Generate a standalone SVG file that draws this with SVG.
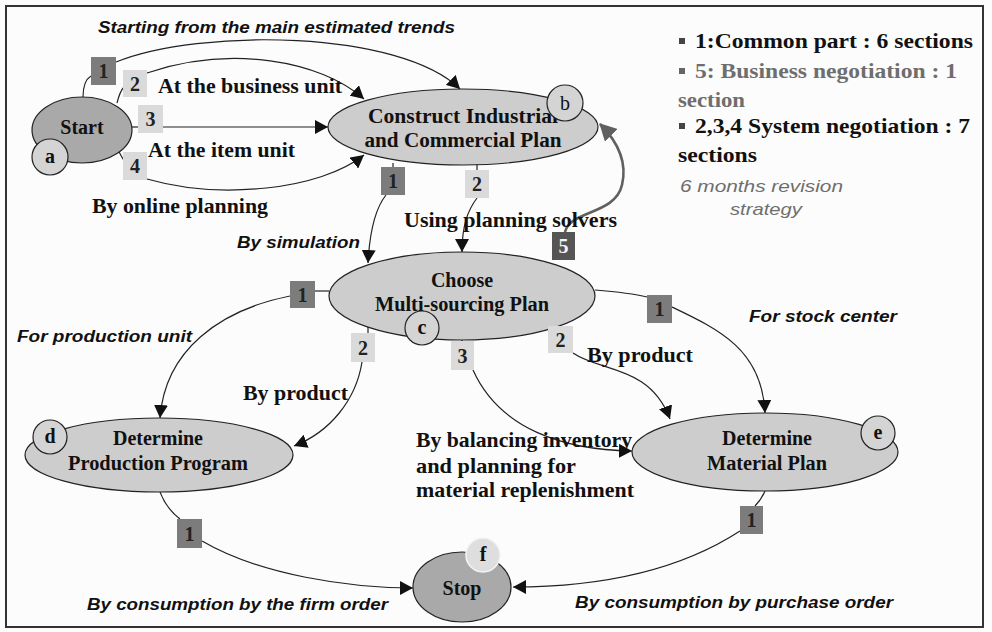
<svg xmlns="http://www.w3.org/2000/svg" width="992" height="632" viewBox="0 0 992 632">
<style>
.ser{font-family:"Liberation Serif","Times New Roman",serif;font-weight:bold;}
.san{font-family:"Liberation Sans",Arial,sans-serif;font-weight:bold;font-style:italic;}
.lbl{font-size:21px;fill:#111;}
.it{font-size:16px;fill:#111;}
.node{font-size:20px;fill:#111;text-anchor:middle;}
.sq{stroke:none;}
.dk{fill:#7c7c7c;}
.lt{fill:#dadada;}
.sqt{font-size:20px;text-anchor:middle;fill:#222;}
.conn{fill:none;stroke:#222;stroke-width:1.2;}
.arr{marker-end:url(#ah);}
.ell{stroke:#222;stroke-width:1.2;}
.circ{fill:#d4d4d4;stroke:#222;stroke-width:1.2;}
.leg{font-size:22px;}
</style>
<defs>
<marker id="ah" markerUnits="userSpaceOnUse" markerWidth="14" markerHeight="14" refX="13" refY="7" orient="auto">
<path d="M0,0 L13,7 L0,14 z" fill="#111"/>
</marker>
<marker id="ah5" markerUnits="userSpaceOnUse" markerWidth="18" markerHeight="18" refX="16" refY="9" orient="auto">
<path d="M0,0 L17,9 L0,18 z" fill="#606060"/>
</marker>
</defs>
<rect x="0" y="0" width="992" height="632" fill="#fcfcfc"/>
<rect x="6" y="6" width="977" height="621" fill="none" stroke="#333" stroke-width="2"/>

<g id="connectors">
<path class="conn" d="M83,97 C83,86 86,79 91,76"/>
<path class="conn" d="M117,103 C119,95 121,90 124,87"/>
<path class="conn" d="M132,127 L138,127"/>
<path class="conn" d="M118,150 C121,155 122,158 124,160"/>
<path class="conn" d="M393,163 L393,167"/>
<path class="conn" d="M477,164 L477,170"/>
<path class="conn" d="M329,291 L315,291"/>
<path class="conn" d="M368,322 L368,333"/>
<path class="conn" d="M462,338 L462,341"/>
<path class="conn" d="M555,322 L555,326"/>
<path class="conn" d="M595,290 C620,292 635,294 647,297"/>
<path class="conn" d="M160,492 C165,505 172,513 180,519"/>
<path class="conn" d="M765,491 C762,498 758,503 755,506"/>

<path class="conn arr" d="M116,62 C200,28 400,30 460,89"/>
<path class="conn arr" d="M147,73 C230,45 320,60 364,99"/>
<path class="conn arr" d="M163,127 L328,127"/>
<path class="conn arr" d="M147,179 C220,200 320,190 364,155"/>
<path class="conn arr" d="M386,195 C378,205 370,225 368,263"/>
<path class="conn arr" d="M477,198 C468,210 462,225 462,252"/>
<path fill="none" stroke="#606060" stroke-width="2.6" marker-end="url(#ah5)" d="M565,232 C570,210 615,215 622,185 C628,160 616,140 600,124"/>
<path class="conn arr" d="M290,296 C220,310 165,350 160,418"/>
<path class="conn arr" d="M362,362 C356,400 330,432 294,446"/>
<path class="conn arr" d="M473,370 C500,430 565,450 632,451"/>
<path class="conn arr" d="M573,353 C600,372 650,365 670,419"/>
<path class="conn arr" d="M672,307 C720,330 762,350 765,413"/>
<path class="conn arr" d="M202,541 C260,575 350,588 413,588"/>
<path class="conn arr" d="M740,531 C680,570 600,587 513,587"/>
</g>

<g id="start">
<ellipse class="ell" cx="82" cy="130" rx="50" ry="33" fill="#a9a9a9"/>
<text class="ser node" x="82" y="134" font-size="19">Start</text>
<circle class="circ" cx="50" cy="157" r="18"/>
<text class="ser node" x="50" y="163" font-size="18">a</text>
</g>

<g id="construct">
<ellipse class="ell" cx="463" cy="127" rx="135" ry="38" fill="#cdcdcd"/>
<text class="ser node" x="463" y="123" textLength="190" lengthAdjust="spacingAndGlyphs">Construct Industrial</text>
<text class="ser node" x="463" y="147" textLength="197" lengthAdjust="spacingAndGlyphs">and Commercial Plan</text>
<circle class="circ" cx="565" cy="103" r="18"/>
<text class="ser node" x="565" y="110" font-size="19" style="font-weight:normal">b</text>
</g>

<g id="choose">
<ellipse class="ell" cx="462" cy="296" rx="133" ry="44" fill="#cdcdcd"/>
<text class="ser node" x="462" y="287">Choose</text>
<text class="ser node" x="462" y="311" textLength="174" lengthAdjust="spacingAndGlyphs">Multi-sourcing Plan</text>
<circle class="circ" cx="422" cy="328" r="17"/>
<text class="ser node" x="422" y="334" font-size="18">c</text>
</g>

<g id="production">
<ellipse class="ell" cx="159" cy="455" rx="134" ry="37" fill="#cdcdcd"/>
<text class="ser node" x="158" y="445">Determine</text>
<text class="ser node" x="158" y="470" textLength="180" lengthAdjust="spacingAndGlyphs">Production Program</text>
<circle class="circ" cx="50" cy="437" r="17"/>
<text class="ser node" x="50" y="443" font-size="18">d</text>
</g>

<g id="material">
<ellipse class="ell" cx="765" cy="452" rx="133" ry="39" fill="#cdcdcd"/>
<text class="ser node" x="767" y="445">Determine</text>
<text class="ser node" x="767" y="470" textLength="120" lengthAdjust="spacingAndGlyphs">Material Plan</text>
<circle class="circ" cx="878" cy="433" r="17"/>
<text class="ser node" x="878" y="439" font-size="18">e</text>
</g>

<g id="stop">
<ellipse class="ell" cx="462" cy="587" rx="49" ry="35" fill="#a9a9a9"/>
<text class="ser node" x="462" y="595">Stop</text>
<circle cx="483" cy="555" r="17" fill="#dedede" stroke="#f4f4f4" stroke-width="1.5"/>
<text class="ser node" x="483" y="561" font-size="18">f</text>
</g>

<g id="squares">
<rect class="sq dk" x="91" y="57" width="25" height="28"/><text class="ser sqt" x="103.5" y="78">1</text>
<rect class="sq lt" x="123" y="70" width="24" height="27"/><text class="ser sqt" x="135" y="91">2</text>
<rect class="sq lt" x="138" y="105" width="25" height="28"/><text class="ser sqt" x="150.5" y="126">3</text>
<rect class="sq lt" x="123" y="152" width="24" height="28"/><text class="ser sqt" x="135" y="173">4</text>
<rect class="sq dk" x="381" y="167" width="24" height="28"/><text class="ser sqt" x="393" y="188">1</text>
<rect class="sq lt" x="465" y="170" width="24" height="28"/><text class="ser sqt" x="477" y="191">2</text>
<rect class="sq" fill="#555" x="552" y="232" width="23" height="28"/><text class="ser sqt" x="563.5" y="253" fill="#fff" style="fill:#f4f4f4">5</text>
<rect class="sq dk" x="290" y="281" width="25" height="27"/><text class="ser sqt" x="302.5" y="302">1</text>
<rect class="sq lt" x="351" y="333" width="24" height="29"/><text class="ser sqt" x="363" y="355">2</text>
<rect class="sq lt" x="451" y="341" width="23" height="29"/><text class="ser sqt" x="462.5" y="363">3</text>
<rect class="sq lt" x="548" y="326" width="25" height="27"/><text class="ser sqt" x="560.5" y="347">2</text>
<rect class="sq dk" x="647" y="295" width="25" height="28"/><text class="ser sqt" x="659.5" y="316">1</text>
<rect class="sq dk" x="177" y="519" width="25" height="29"/><text class="ser sqt" x="189.5" y="541">1</text>
<rect class="sq dk" x="740" y="506" width="23" height="28"/><text class="ser sqt" x="751.5" y="527">1</text>
</g>

<g id="labels">
<text class="san it" x="98" y="33" textLength="357" lengthAdjust="spacingAndGlyphs">Starting from the main estimated trends</text>
<text class="ser lbl" x="158" y="93" textLength="184" lengthAdjust="spacingAndGlyphs">At the business unit</text>
<text class="ser lbl" x="148" y="157" textLength="147" lengthAdjust="spacingAndGlyphs">At the item unit</text>
<text class="ser lbl" x="92" y="213" textLength="176" lengthAdjust="spacingAndGlyphs">By online planning</text>
<text class="san it" x="237" y="248" textLength="123" lengthAdjust="spacingAndGlyphs">By simulation</text>
<text class="ser lbl" x="404" y="227" textLength="213" lengthAdjust="spacingAndGlyphs">Using planning solvers</text>
<text class="san it" x="17" y="342" textLength="175" lengthAdjust="spacingAndGlyphs">For production unit</text>
<text class="ser lbl" x="243" y="400" textLength="105" lengthAdjust="spacingAndGlyphs">By product</text>
<text class="ser lbl" x="587" y="362" textLength="106" lengthAdjust="spacingAndGlyphs">By product</text>
<text class="san it" x="749" y="322" textLength="148" lengthAdjust="spacingAndGlyphs">For stock center</text>
<text class="ser lbl" x="416" y="447" textLength="216" lengthAdjust="spacingAndGlyphs">By balancing inventory</text>
<text class="ser lbl" x="416" y="473" textLength="160" lengthAdjust="spacingAndGlyphs">and planning for</text>
<text class="ser lbl" x="416" y="497" textLength="218" lengthAdjust="spacingAndGlyphs">material replenishment</text>
<text class="san it" x="87" y="610" textLength="301" lengthAdjust="spacingAndGlyphs">By consumption by the firm order</text>
<text class="san it" x="575" y="608" textLength="318" lengthAdjust="spacingAndGlyphs">By consumption by purchase order</text>
</g>

<g id="legend">
<rect x="679" y="38" width="6" height="6" fill="#444"/>
<text class="ser leg" x="695" y="48" fill="#111" textLength="278" lengthAdjust="spacingAndGlyphs">1:Common part : 6 sections</text>
<rect x="679" y="68" width="6" height="6" fill="#666"/>
<text class="ser leg" x="695" y="78" fill="#6e6e6e" textLength="262" lengthAdjust="spacingAndGlyphs">5: Business negotiation : 1</text>
<text class="ser leg" x="678" y="107" fill="#6e6e6e" textLength="67" lengthAdjust="spacingAndGlyphs">section</text>
<rect x="679" y="123" width="6" height="6" fill="#444"/>
<text class="ser leg" x="695" y="133" fill="#111" textLength="275" lengthAdjust="spacingAndGlyphs">2,3,4 System negotiation : 7</text>
<text class="ser leg" x="678" y="162" fill="#111" textLength="79" lengthAdjust="spacingAndGlyphs">sections</text>
<text x="680" y="192" font-family="Liberation Sans, Arial, sans-serif" font-style="italic" font-size="17" fill="#6e6e6e" textLength="163" lengthAdjust="spacingAndGlyphs">6 months revision</text>
<text x="730" y="215" font-family="Liberation Sans, Arial, sans-serif" font-style="italic" font-size="17" fill="#6e6e6e" textLength="72" lengthAdjust="spacingAndGlyphs">strategy</text>
</g>
</svg>
